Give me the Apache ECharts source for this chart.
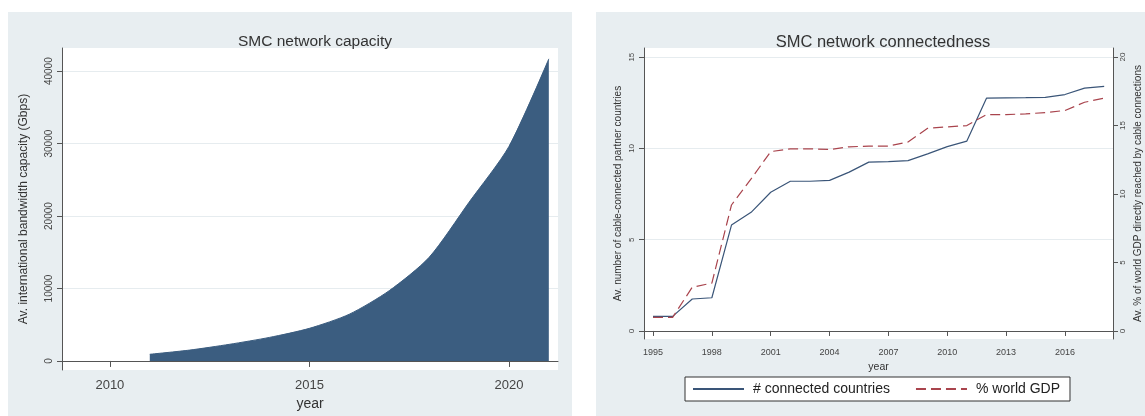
<!DOCTYPE html>
<html>
<head>
<meta charset="utf-8">
<script src="https://cdn.jsdelivr.net/npm/echarts@6/dist/echarts.min.js"></script>
<style>
html,body{margin:0;padding:0;background:#fff;}
#wrap{position:relative;width:1145px;height:416px;}
.panel{position:absolute;background:#e8eef1;}
#c{position:absolute;left:0;top:0;width:1145px;height:416px;}
</style>
</head>
<body>
<div id="wrap">
  <div class="panel" style="left:8px;top:12px;width:564px;height:404px;"></div>
  <div class="panel" style="left:596px;top:12px;width:549px;height:404px;"></div>
  <div id="c"></div>
</div>
<script>
// ---- Data: SMC network capacity ----
const capYears = [2011, 2012, 2013, 2014, 2015, 2016, 2017, 2018, 2019, 2020, 2021];
const capValues = [920, 1500, 2300, 3250, 4500, 6450, 9700, 14300, 21900, 29600, 41700];
const capXTicks = [2010, 2015, 2020];
const capYTicks = [0, 10000, 20000, 30000, 40000];

// ---- Data: SMC network connectedness ----
const conYears = [1995, 1996, 1997, 1998, 1999, 2000, 2001, 2002, 2003, 2004, 2005, 2006,
                  2007, 2008, 2009, 2010, 2011, 2012, 2013, 2014, 2015, 2016, 2017, 2018];
const connectedCountries = [0.8, 0.8, 1.75, 1.82, 5.8, 6.5, 7.6, 8.2, 8.2, 8.25, 8.7, 9.25,
                            9.28, 9.33, 9.7, 10.1, 10.4, 12.75, 12.77, 12.78, 12.8, 12.95, 13.3, 13.4];
const worldGDP = [1.0, 1.0, 3.2, 3.5, 9.2, 11.1, 13.1, 13.3, 13.3, 13.25, 13.45, 13.5,
                  13.5, 13.8, 14.8, 14.9, 15.0, 15.8, 15.8, 15.85, 15.95, 16.1, 16.7, 17.0];
const conXTicks = [1995, 1998, 2001, 2004, 2007, 2010, 2013, 2016];
const conLeftTicks = [0, 5, 10, 15];
const conRightTicks = [0, 5, 10, 15, 20];

const FONT = 'Liberation Sans, Arial, sans-serif';
const AX = '#555';
const GRIDC = '#e6ecef';
const plain = v => String(v);

const pairs = (xs, ys) => xs.map((x, i) => [x, ys[i]]);

const chart = echarts.init(document.getElementById('c'), null, {renderer: 'canvas'});
chart.setOption({
  backgroundColor: 'transparent',
  textStyle: {fontFamily: FONT},
  animation: false,
  title: [
    {text: 'SMC network capacity', left: 310, top: 29, textAlign: 'center',
     textStyle: {fontSize: 15.5, fontWeight: 'normal', color: '#333', fontFamily: FONT}},
    {text: 'SMC network connectedness', left: 878, top: 29, textAlign: 'center',
     textStyle: {fontSize: 16.5, fontWeight: 'normal', color: '#333', fontFamily: FONT}}
  ],
  grid: [
    {left: 62, top: 48, width: 496, height: 322, show: true, backgroundColor: '#fff', borderWidth: 0},
    {left: 644, top: 48, width: 469, height: 291, show: true, backgroundColor: '#fff', borderWidth: 0}
  ],
  xAxis: [
    {gridIndex: 0, type: 'value', min: 2008.8, max: 2021.23,
     axisLine: {show: true, lineStyle: {color: AX}},
     axisTick: {show: true, length: 6, customValues: capXTicks, lineStyle: {color: AX}},
     axisLabel: {customValues: capXTicks, formatter: plain, fontSize: 13, color: '#444', margin: 9},
     splitLine: {show: false},
     name: 'year', nameLocation: 'middle', nameGap: 20,
     nameTextStyle: {fontSize: 14, color: '#333'}},
    {gridIndex: 1, type: 'value', min: 1994.54, max: 2018.45,
     axisLine: {show: true, lineStyle: {color: AX}},
     axisTick: {show: true, length: 5, customValues: conXTicks, lineStyle: {color: AX}},
     axisLabel: {customValues: conXTicks, formatter: plain, fontSize: 9, color: '#444', margin: 9},
     splitLine: {show: false},
     name: 'year', nameLocation: 'middle', nameGap: 17,
     nameTextStyle: {fontSize: 10.5, color: '#333'}}
  ],
  yAxis: [
    {gridIndex: 0, type: 'value', min: -1250, max: 43200,
     axisLine: {show: true, lineStyle: {color: AX}},
     axisTick: {show: true, length: 5, customValues: capYTicks, lineStyle: {color: AX}},
     axisLabel: {customValues: capYTicks, formatter: plain, rotate: 90, fontSize: 10, color: '#444', margin: 8},
     splitLine: {show: true, lineStyle: {color: GRIDC, width: 1}},
     name: 'Av. international bandwidth capacity (Gbps)', nameLocation: 'middle', nameGap: 32, nameRotate: 90,
     nameTextStyle: {fontSize: 12, color: '#333'}},
    {gridIndex: 1, type: 'value', min: -0.44, max: 15.5, position: 'left',
     axisLine: {show: true, lineStyle: {color: AX}},
     axisTick: {show: true, length: 5, customValues: conLeftTicks, lineStyle: {color: AX}},
     axisLabel: {customValues: conLeftTicks, formatter: plain, rotate: 90, fontSize: 8, color: '#444', margin: 8},
     splitLine: {show: true, lineStyle: {color: GRIDC, width: 1}},
     name: 'Av. number of cable-connected partner countries', nameLocation: 'middle', nameGap: 21, nameRotate: 90,
     nameTextStyle: {fontSize: 10, color: '#333'}},
    {gridIndex: 1, type: 'value', min: -0.58, max: 20.66, position: 'right',
     axisLine: {show: true, lineStyle: {color: AX}},
     axisTick: {show: true, length: 5, customValues: conRightTicks, lineStyle: {color: AX}},
     axisLabel: {customValues: conRightTicks, formatter: plain, rotate: 90, fontSize: 8, color: '#444', margin: 6},
     splitLine: {show: false},
     name: 'Av. % of world GDP directly reached by cable connections', nameLocation: 'middle', nameGap: 20, nameRotate: 90,
     nameTextStyle: {fontSize: 10, color: '#333'}}
  ],
  legend: {
    left: 685, top: 377, orient: 'horizontal',
    padding: [5, 10, 5, 7], itemWidth: 51, itemHeight: 12, itemGap: 25,
    borderColor: '#333', borderWidth: 1, backgroundColor: '#fff', borderRadius: 0,
    textStyle: {fontSize: 14, color: '#222', fontFamily: FONT, padding: [0, 0, 0, 4]},
    data: [
      {name: '# connected countries', itemStyle: {opacity: 0}},
      {name: '% world GDP', itemStyle: {opacity: 0}}
    ]
  },
  series: [
    {type: 'line', name: 'capacity', xAxisIndex: 0, yAxisIndex: 0,
     data: pairs(capYears, capValues), symbol: 'none', smooth: 0.25,
     lineStyle: {color: '#3b5d80', width: 1}, itemStyle: {color: '#3b5d80'},
     areaStyle: {color: '#3b5d80', opacity: 1}},
    {type: 'line', name: '# connected countries', xAxisIndex: 1, yAxisIndex: 1,
     data: pairs(conYears, connectedCountries), symbol: 'none',
     lineStyle: {color: '#3a5578', width: 1.2}, itemStyle: {color: '#3a5578'}},
    {type: 'line', name: '% world GDP', xAxisIndex: 1, yAxisIndex: 2,
     data: pairs(conYears, worldGDP), symbol: 'none',
     lineStyle: {color: '#a9444d', width: 1.2, type: [10, 5]}, itemStyle: {color: '#a9444d'}}
  ]
});
</script>
</body>
</html>
